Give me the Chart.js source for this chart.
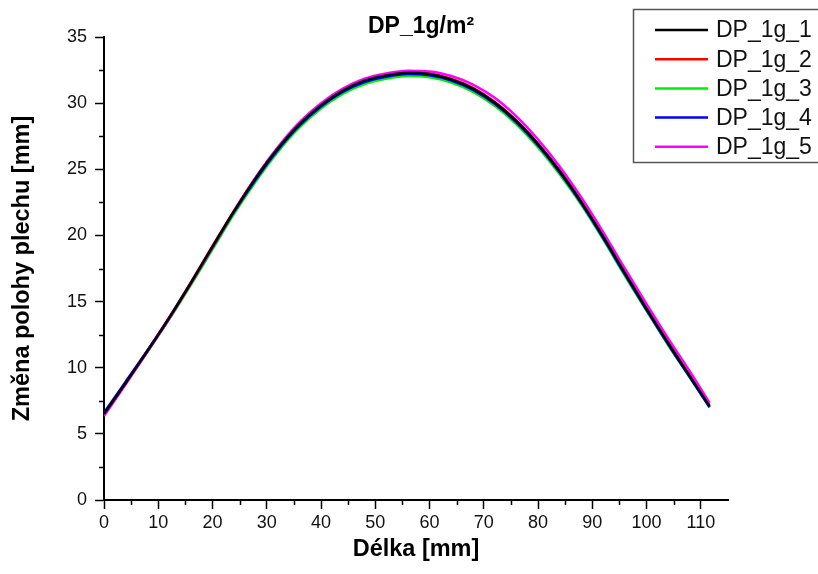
<!DOCTYPE html>
<html>
<head>
<meta charset="utf-8">
<script src="https://cdn.jsdelivr.net/npm/chart.js@4/dist/chart.umd.min.js"></script>
<style>
  html, body { margin: 0; padding: 0; background: #fff; }
  #wrap { width: 818px; height: 574px; }
</style>
</head>
<body>
<div id="wrap"><canvas id="c" width="818" height="574"></canvas></div>
<script>
// ---- data ----
const chartTitle = 'DP_1g/m²';
const xTitle = 'Délka [mm]';
const yTitle = 'Změna polohy plechu [mm]';
const seriesNames = ['DP_1g_1', 'DP_1g_2', 'DP_1g_3', 'DP_1g_4', 'DP_1g_5'];
const seriesColors = ['#000000', '#ff0000', '#00ee00', '#0000ff', '#ff00ff'];
const xValues = [0, 4, 8, 12, 16, 20, 24, 28, 32, 36, 40, 44, 48, 52, 56, 60, 64, 68, 72, 76, 80, 84, 88, 92, 96, 100, 104, 108, 111.6];
const dp1 = [6.5, 8.85, 11.25, 13.75, 16.4, 19.15, 21.85, 24.35, 26.55, 28.4, 29.85, 30.95, 31.7, 32.1, 32.3, 32.2, 31.8, 31.1, 30.05, 28.65, 26.9, 24.85, 22.5, 19.9, 17.15, 14.45, 11.85, 9.35, 7.1];
const dp2 = [6.5, 8.85, 11.3, 13.8, 16.45, 19.2, 21.9, 24.4, 26.6, 28.45, 29.9, 31.0, 31.75, 32.15, 32.35, 32.25, 31.85, 31.15, 30.1, 28.7, 26.95, 24.9, 22.55, 19.95, 17.2, 14.5, 11.9, 9.4, 7.15];
const dp3 = [6.55, 8.85, 11.2, 13.65, 16.25, 18.95, 21.65, 24.1, 26.3, 28.15, 29.6, 30.7, 31.45, 31.85, 32.05, 31.95, 31.55, 30.85, 29.8, 28.4, 26.65, 24.6, 22.3, 19.7, 16.95, 14.3, 11.7, 9.25, 7.05];
const dp4 = [6.6, 8.95, 11.3, 13.75, 16.4, 19.1, 21.8, 24.25, 26.45, 28.3, 29.75, 30.85, 31.6, 32.0, 32.2, 32.1, 31.7, 31.0, 29.95, 28.55, 26.8, 24.75, 22.4, 19.8, 17.05, 14.35, 11.75, 9.25, 7.0];
const dp5 = [6.35, 8.75, 11.2, 13.7, 16.35, 19.1, 21.85, 24.4, 26.65, 28.55, 30.0, 31.1, 31.85, 32.25, 32.45, 32.4, 32.05, 31.4, 30.4, 29.0, 27.25, 25.2, 22.85, 20.25, 17.5, 14.8, 12.2, 9.7, 7.35];
const seriesValues = [dp1, dp2, dp3, dp4, dp5];
const xMinorTicks = [5, 15, 25, 35, 45, 55, 65, 75, 85, 95, 105];
const yMinorTicks = [2.5, 7.5, 12.5, 17.5, 22.5, 27.5, 32.5];

const FONT = "'Liberation Sans', Arial, sans-serif";

const datasets = seriesNames.map((name, i) => ({
  label: name,
  data: xValues.map((x, j) => ({ x: x, y: seriesValues[i][j] })),
  borderColor: seriesColors[i],
  backgroundColor: seriesColors[i],
  borderWidth: 2.5,
  pointRadius: 0,
  fill: false,
  cubicInterpolationMode: 'monotone',
  order: [1, 4, 5, 3, 2][i]
}));

const titlePlugin = {
  id: 'centeredTitle',
  afterDraw(chart) {
    const ctx = chart.ctx;
    const area = chart.chartArea;
    ctx.save();
    ctx.font = 'bold 23px ' + FONT;
    ctx.fillStyle = '#000';
    ctx.textAlign = 'center';
    ctx.textBaseline = 'alphabetic';
    ctx.fillText(chartTitle, (area.left + area.right) / 2 + 5, 33);
    ctx.restore();
  }
};

const minorTickPlugin = {
  id: 'minorTicks',
  afterDraw(chart) {
    const ctx = chart.ctx;
    const xs = chart.scales.x, ys = chart.scales.y;
    const area = chart.chartArea;
    ctx.save();
    ctx.strokeStyle = '#000';
    ctx.lineWidth = 1.5;
    ctx.beginPath();
    yMinorTicks.forEach(v => {
      const p = Math.round(ys.getPixelForValue(v)) + 0.5;
      ctx.moveTo(area.left - 5, p);
      ctx.lineTo(area.left, p);
    });
    xMinorTicks.forEach(v => {
      const p = Math.round(xs.getPixelForValue(v)) + 0.5;
      ctx.moveTo(p, area.bottom);
      ctx.lineTo(p, area.bottom + 5);
    });
    ctx.stroke();
    ctx.restore();
  }
};

const boxLegendPlugin = {
  id: 'boxLegend',
  afterDraw(chart) {
    const ctx = chart.ctx;
    const left = 633, top = 9, bottom = 162, right = 840;
    ctx.save();
    ctx.fillStyle = '#fff';
    ctx.fillRect(left, top, right - left, bottom - top);
    ctx.strokeStyle = '#555';
    ctx.lineWidth = 1.5;
    ctx.strokeRect(left + 0.5, top + 0.5, right - left, bottom - top);
    ctx.font = '23px ' + FONT;
    ctx.textBaseline = 'middle';
    ctx.textAlign = 'left';
    chart.data.datasets.forEach((ds, i) => {
      const y = 30 + i * 29.2;
      ctx.strokeStyle = ds.borderColor;
      ctx.lineWidth = 2.5;
      ctx.beginPath();
      ctx.moveTo(655, y);
      ctx.lineTo(708, y);
      ctx.stroke();
      ctx.fillStyle = '#111';
      ctx.fillText(ds.label, 716, y + 1);
    });
    ctx.restore();
  }
};

new Chart(document.getElementById('c'), {
  type: 'line',
  data: { datasets: datasets },
  plugins: [titlePlugin, minorTickPlugin, boxLegendPlugin],
  options: {
    responsive: false,
    animation: false,
    devicePixelRatio: 1,
    layout: { padding: { left: 0, right: 90, top: 37, bottom: 0 } },
    plugins: {
      legend: { display: false },
      tooltip: { enabled: false },
      title: { display: false }
    },
    scales: {
      x: {
        type: 'linear',
        min: 0,
        max: 115,
        afterFit(scale) { scale.height = 74; },
        border: { display: true, color: '#000', width: 2 },
        grid: { drawOnChartArea: false, drawTicks: true, tickLength: 9, tickColor: '#000', tickWidth: 1.5 },
        ticks: { stepSize: 10, includeBounds: false, color: '#111', padding: 3, maxRotation: 0,
                 font: { family: FONT, size: 18 } },
        title: { display: true, text: xTitle, color: '#000',
                 font: { family: FONT, size: 23.5, weight: 'bold' }, padding: { top: 0, bottom: 10 } }
      },
      y: {
        type: 'linear',
        min: 0,
        max: 35,
        afterFit(scale) { scale.width = 104; },
        border: { display: true, color: '#000', width: 2 },
        grid: { drawOnChartArea: false, drawTicks: true, tickLength: 9, tickColor: '#000', tickWidth: 1.5 },
        ticks: { stepSize: 5, color: '#111', padding: 8, font: { family: FONT, size: 18 } },
        title: { display: true, text: yTitle, color: '#000',
                 font: { family: FONT, size: 23.5, weight: 'bold' }, padding: { top: 8, bottom: 0 } }
      }
    }
  }
});
</script>
</body>
</html>
